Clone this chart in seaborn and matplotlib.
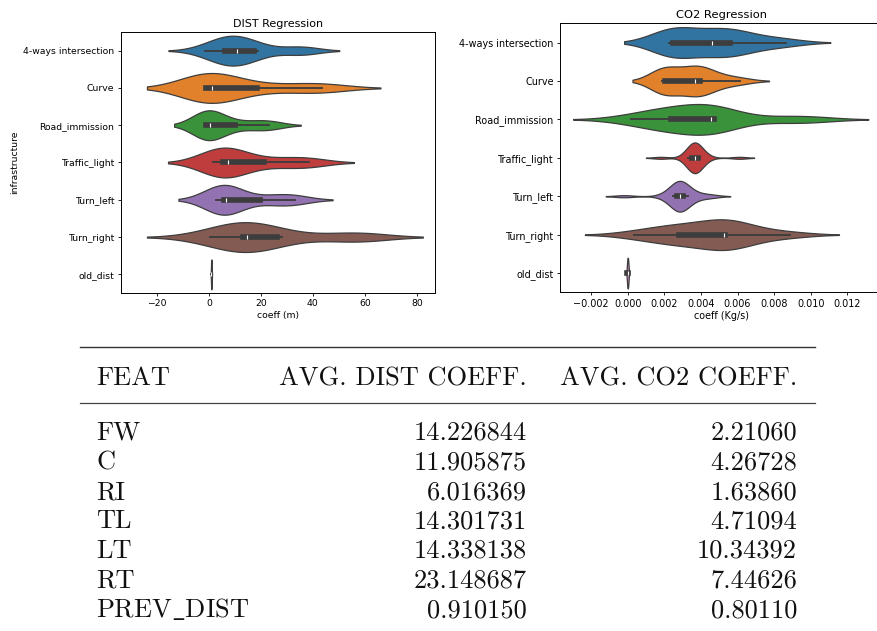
import numpy as np
import pandas as pd
import matplotlib
matplotlib.use("Agg")
import matplotlib.pyplot as plt
from matplotlib.lines import Line2D
import seaborn as sns

# ---------------- data ----------------
categories = ["4-ways intersection", "Curve", "Road_immission", "Traffic_light",
              "Turn_left", "Turn_right", "old_dist"]

# DIST regression coefficients (m)
four_ways_dist = [-1.5, 3.0, 5.5, 6.5, 8.0, 10.0, 11.8, 13.0, 17.0, 19.0, 34.5, 36.0]
curve_dist = [-1.5, -1.3, -1.2, -1.0, 0.5, 1.5, 8.0, 22.0, 40.0, 43.6]
road_dist = [-1.3, -1.25, -1.2, -1.1, 0.0, 0.8, 4.0, 12.0, 21.0, 23.2]
traffic_dist = [1.4, 3.0, 5.0, 6.0, 7.0, 7.4, 12.0, 24.0, 35.0, 38.6]
left_dist = [2.7, 4.0, 5.5, 6.0, 6.3, 6.7, 9.0, 23.0, 30.0, 33.1]
right_dist = [0.4, 8.0, 13.0, 14.0, 14.3, 14.7, 20.0, 28.0, 55.0, 58.0]
old_dist = [0.8, 0.91, 1.0]

# CO2 regression coefficients (Kg/s)
four_ways_co2 = [0.00225, 0.0023, 0.0023, 0.00235, 0.0028, 0.0033, 0.0043, 0.0049,
                 0.00546, 0.0055, 0.0056, 0.0062, 0.0075, 0.00862]
curve_co2 = [0.00185, 0.0019, 0.0019, 0.00195, 0.0022, 0.0028, 0.0035, 0.0038,
             0.0038, 0.0039, 0.00395, 0.0045, 0.0052, 0.00613]
road_co2 = [0.00016, 0.0012, 0.0019, 0.0023, 0.0025, 0.0032, 0.00455, 0.0046,
            0.00462, 0.00465, 0.0047, 0.00475, 0.0086, 0.0100]
traffic_co2 = [0.0018, 0.0033, 0.0034, 0.00345, 0.0035, 0.00355, 0.0036, 0.0036, 0.00362, 0.00365,
               0.00368, 0.0037, 0.0037, 0.00375, 0.0038, 0.00385, 0.0039, 0.00395, 0.0043, 0.0061]
left_co2 = [-0.0002, 0.0020, 0.0025, 0.0026, 0.0027, 0.0027, 0.00275, 0.0028, 0.0028, 0.00283,
            0.00287, 0.0029, 0.0029, 0.00295, 0.0030, 0.0031, 0.0033, 0.0036, 0.0041, 0.0046]
right_co2 = [0.00035, 0.0015, 0.0025, 0.0027, 0.0032, 0.0040, 0.00526, 0.00528, 0.0053, 0.0053,
             0.0053, 0.0062, 0.0072, 0.00885]
old_co2 = [-0.00003, 0.0, 0.00003]

# table
table_header = ["FEAT", "AVG. DIST COEFF.", "AVG. CO2 COEFF."]
table_feat = ["FW", "C", "RI", "TL", "LT", "RT", r"$\mathrm{PREV\_DIST}$"]
table_dist = ["14.226844", "11.905875", "6.016369", "14.301731", "14.338138", "23.148687", "0.910150"]
table_co2 = ["2.21060", "4.26728", "1.63860", "4.71094", "10.34392", "7.44626", "0.80110"]


def long_frame(groups):
    rows = []
    for cat, vals in zip(categories, groups):
        for v in vals:
            rows.append((cat, v))
    return pd.DataFrame(rows, columns=["infrastructure", "coeff"])


df_dist = long_frame([four_ways_dist, curve_dist, road_dist, traffic_dist,
                      left_dist, right_dist, old_dist])
df_co2 = long_frame([four_ways_co2, curve_co2, road_co2, traffic_co2,
                     left_co2, right_co2, old_co2])

# ---------------- figure ----------------
W, H = 877, 631
fig = plt.figure(figsize=(W / 100, H / 100), dpi=100)
fig.patch.set_facecolor("white")


def px_axes(x0, y0, x1, y1):
    return fig.add_axes([x0 / W, 1 - y1 / H, (x1 - x0) / W, (y1 - y0) / H])


ax1 = px_axes(120.7, 32, 435, 293)
ax2 = px_axes(560, 23.3, 884, 292.3)

for ax, df, fs, title, xlabel in [
    (ax1, df_dist, 6.7, "DIST Regression", "coeff (m)"),
    (ax2, df_co2, 6.9, "CO2 Regression", "coeff (Kg/s)"),
]:
    sns.violinplot(data=df, x="coeff", y="infrastructure", hue="infrastructure",
                   order=categories, hue_order=categories, palette="tab10",
                   density_norm="width", inner="box", linewidth=0.9,
                   legend=False, ax=ax, cut=2)
    ax.set_title(title, fontsize=fs * 1.2, pad=3.5)
    ax.set_xlabel(xlabel, fontsize=fs, labelpad=2)
    ax.tick_params(labelsize=fs, length=2.4, width=0.6, pad=2.2)
    for s in ax.spines.values():
        s.set_linewidth(0.7)
        s.set_visible(True)

ax1.set_ylabel("infrastructure", fontsize=6.7, labelpad=3)
ax2.set_ylabel("")
ax1.set_xlim(-34, 87)
ax2.set_xlim(-0.0037, 0.0140)
ax1.set_xticks([-20, 0, 20, 40, 60, 80])
ax2.set_xticks([-0.002, 0.0, 0.002, 0.004, 0.006, 0.008, 0.010, 0.012])
ax2.set_xticklabels(["\u22120.002", "0.000", "0.002", "0.004", "0.006", "0.008", "0.010", "0.012"])

# ---------------- table ----------------
tfs = 19.0
tfont = dict(fontsize=tfs, family="cmr10", color="#111111", va="baseline")


def fx(x):
    return x / W


def fy(y):
    return 1 - y / H


fig.add_artist(Line2D([fx(80), fx(815)], [fy(346.5), fy(346.5)], color="#333333", lw=1.0))
fig.add_artist(Line2D([fx(80), fx(815)], [fy(402.5), fy(402.5)], color="#444444", lw=0.9))

fig.text(fx(96), fy(385), table_header[0], ha="left", **tfont)
fig.text(fx(527), fy(385), table_header[1], ha="right", **tfont)
fig.text(fx(797), fy(385), table_header[2], ha="right", **tfont)

for i, (f, d, c) in enumerate(zip(table_feat, table_dist, table_co2)):
    yb = 440 + i * 29.5
    if f.startswith("$"):
        fig.text(fx(96), fy(yb), f, ha="left", fontsize=tfs, color="#111111",
                 va="baseline", math_fontfamily="cm")
    else:
        fig.text(fx(96), fy(yb), f, ha="left", **tfont)
    fig.text(fx(527), fy(yb), d, ha="right", **tfont)
    fig.text(fx(797), fy(yb), c, ha="right", **tfont)

fig.savefig("out.png", dpi=100, facecolor="white")
